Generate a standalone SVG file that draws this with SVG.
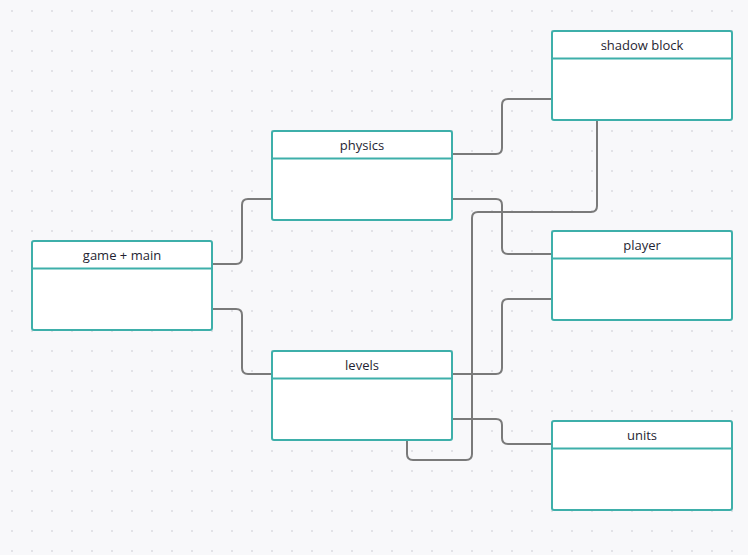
<svg xmlns="http://www.w3.org/2000/svg" width="748" height="555" viewBox="0 0 748 555">
<defs>
<pattern id="dots" x="0" y="0" width="20" height="20" patternUnits="userSpaceOnUse">
<circle cx="12" cy="11" r="1.1" fill="#dcdce2"/>
</pattern>
<style>
.box{fill:#ffffff;stroke:#3eafaa;stroke-width:2}
.hdr{stroke:#3eafaa;stroke-width:2}
.lbl{font-family:"Open Sans","Noto Sans",sans-serif;font-size:13px;fill:#1f1f33;text-anchor:middle}
.c{fill:none;stroke:#7a7a7a;stroke-width:2}
</style>
</defs>
<rect width="748" height="555" fill="#f8f8fa"/>
<rect width="748" height="555" fill="url(#dots)"/>
<g id="connectors">
<path class="c" d="M212,264 H236 Q242,264 242,258 V205 Q242,199 248,199 H272"/>
<path class="c" d="M212,309 H236 Q242,309 242,315 V368 Q242,374 248,374 H272"/>
<path class="c" d="M452,154 H496 Q502,154 502,148 V105 Q502,99 508,99 H552"/>
<path class="c" d="M452,199 H496 Q502,199 502,205 V248 Q502,254 508,254 H552"/>
<path class="c" d="M597,120 V206 Q597,212 591,212 H478 Q472,212 472,218 V454 Q472,460 466,460 H413 Q407,460 407,454 V440"/>
<path class="c" d="M452,374 H496 Q502,374 502,368 V305 Q502,299 508,299 H552"/>
<path class="c" d="M452,419 H496 Q502,419 502,425 V438 Q502,444 508,444 H552"/>
</g>
<g id="game-main">
<rect class="box" x="32" y="241" width="180" height="89" rx="2"/>
<line class="hdr" x1="32" y1="268.5" x2="212" y2="268.5"/>
<text class="lbl" x="122" y="259.5">game + main</text>
</g>
<g id="physics">
<rect class="box" x="272" y="131" width="180" height="89" rx="2"/>
<line class="hdr" x1="272" y1="158.5" x2="452" y2="158.5"/>
<text class="lbl" x="362" y="149.5">physics</text>
</g>
<g id="levels">
<rect class="box" x="272" y="351" width="180" height="89" rx="2"/>
<line class="hdr" x1="272" y1="378.5" x2="452" y2="378.5"/>
<text class="lbl" x="362" y="369.5">levels</text>
</g>
<g id="shadow-block">
<rect class="box" x="552" y="31" width="180" height="89" rx="2"/>
<line class="hdr" x1="552" y1="58.5" x2="732" y2="58.5"/>
<text class="lbl" x="642" y="49.5">shadow block</text>
</g>
<g id="player">
<rect class="box" x="552" y="231" width="180" height="89" rx="2"/>
<line class="hdr" x1="552" y1="258.5" x2="732" y2="258.5"/>
<text class="lbl" x="642" y="249.5">player</text>
</g>
<g id="units">
<rect class="box" x="552" y="421" width="180" height="89" rx="2"/>
<line class="hdr" x1="552" y1="448.5" x2="732" y2="448.5"/>
<text class="lbl" x="642" y="439.5">units</text>
</g>
</svg>
